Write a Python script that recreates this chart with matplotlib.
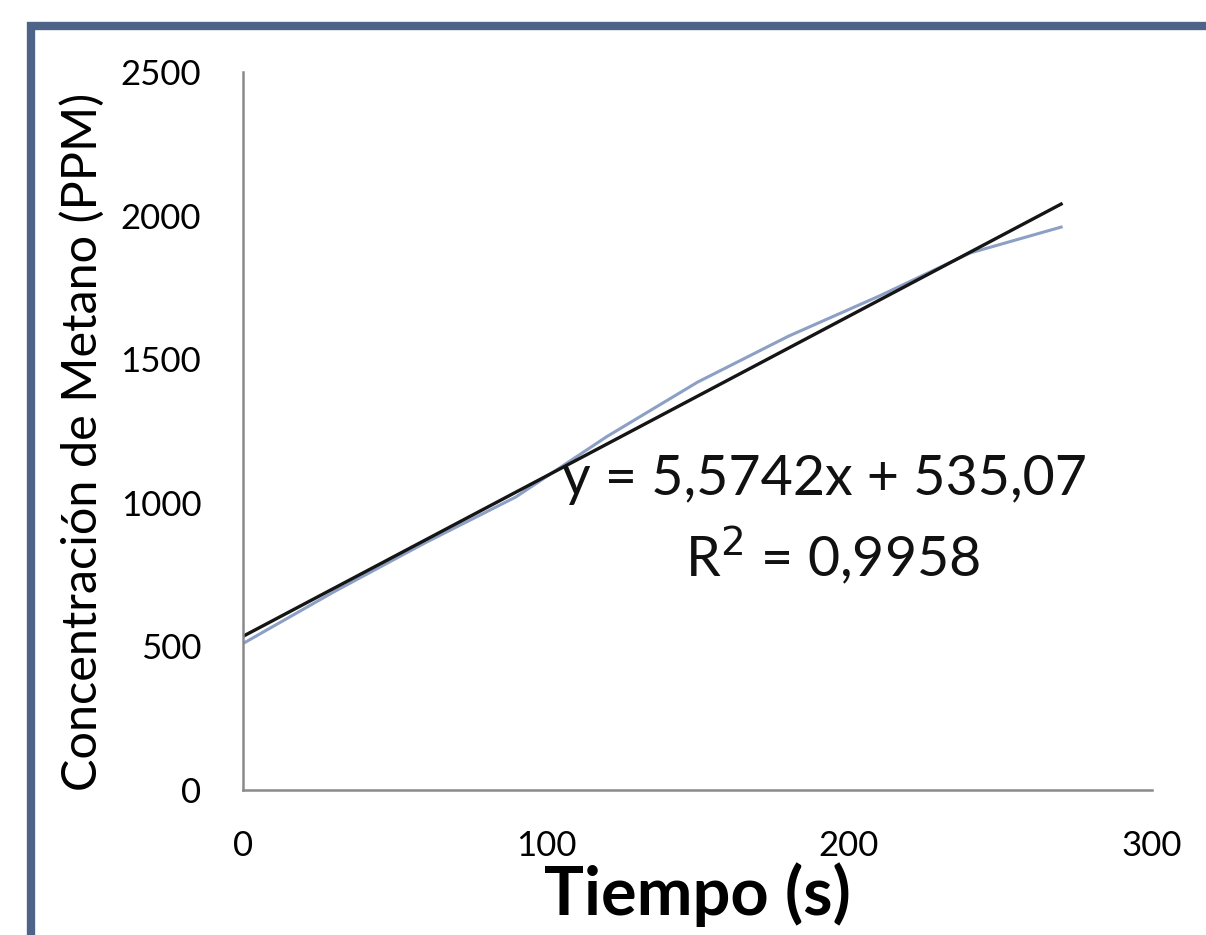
import numpy as np
import matplotlib
matplotlib.use("Agg")
from matplotlib import pyplot as plt
from matplotlib.patches import Rectangle

# datos medidos (tiempo en s, metano en ppm)
tiempo = [0, 30, 60, 90, 120, 150, 180, 210, 240, 270]
metano = [510, 690, 860, 1020, 1230, 1420, 1580, 1720, 1870, 1960]

# linea de tendencia (Excel)
pendiente = 5.5742
intercepto = 535.07
r2 = 0.9958

xticks = [0, 100, 200, 300]
yticks = [0, 500, 1000, 1500, 2000, 2500]

plt.rcParams['font.family'] = ['Lato', 'DejaVu Sans']

fig = plt.figure(figsize=(12.06, 9.35), dpi=100)
fig.patch.set_facecolor('white')

# marco azul del grafico original
fig.patches.append(Rectangle((31/1206, -0.1), 1.2, (935-26)/935 + 0.1,
                             transform=fig.transFigure, fill=False,
                             edgecolor='#4d6488', linewidth=6, zorder=0))

ax = fig.add_axes([243/1206, 145/935, (1152-243)/1206, (790-72)/935])

ax.plot(tiempo, metano, color='#8c9fc4', linewidth=2.2)
xt = np.array([tiempo[0], tiempo[-1]])
ax.plot(xt, pendiente*xt + intercepto, color='#151515', linewidth=2.4)

ax.set_xlim(0, 300)
ax.set_ylim(0, 2500)
ax.set_xticks(xticks)
ax.set_yticks(yticks)
ax.tick_params(length=0, labelsize=25)
ax.tick_params(axis='y', pad=30)
ax.tick_params(axis='x', pad=29)

for s in ['top', 'right']:
    ax.spines[s].set_visible(False)
for s in ['left', 'bottom']:
    ax.spines[s].set_color('#8a8a8a')
    ax.spines[s].set_linewidth(1.8)

ax.set_xlabel('Tiempo (s)', fontsize=48, fontweight='bold', labelpad=0)
ax.set_ylabel('Concentración de Metano (PPM)', fontsize=35)
ax.yaxis.set_label_coords(-0.152, 0.485)

eq = 'y = ' + f'{pendiente:.4f}'.replace('.', ',') + 'x + ' + f'{intercepto:.2f}'.replace('.', ',')
ax.text(0.64, 0.432, eq, transform=ax.transAxes, fontsize=40,
        ha='center', va='center', color='#111111')
ax.text(0.648, 0.327, 'R$^2$ = ' + f'{r2:.4f}'.replace('.', ','), transform=ax.transAxes,
        fontsize=40, ha='center', va='center', color='#111111')

fig.savefig('out.png', dpi=100)
